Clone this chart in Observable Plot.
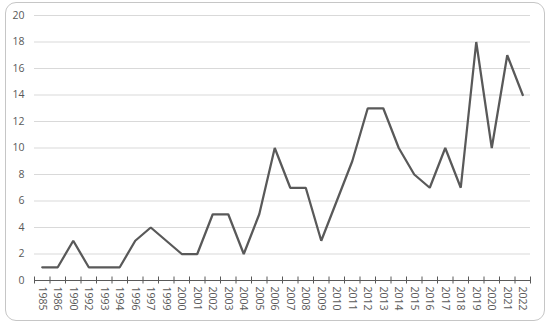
<!DOCTYPE html>
<html>
<head>
<meta charset="utf-8">
<script src="https://cdn.jsdelivr.net/npm/d3@7"></script>
<script src="https://cdn.jsdelivr.net/npm/@observablehq/plot@0.6"></script>
<style>
  html, body { margin: 0; padding: 0; background: #fff; }
  #wrap { position: relative; width: 550px; height: 326px; overflow: hidden; }
  #frame { position: absolute; left: 5px; top: 2px; width: 538px; height: 317px;
           border: 1px solid #c6c6c6; border-radius: 11px; box-sizing: content-box; }
  #chart { position: absolute; left: 0; top: 0; }
</style>
</head>
<body>
<div id="wrap"><div id="frame"></div><div id="chart"></div></div>
<script>
const years = ["1985","1986","1990","1992","1993","1994","1996","1997","1999","2000",
  "2001","2002","2003","2004","2005","2006","2007","2008","2009","2010","2011","2012",
  "2013","2014","2015","2016","2017","2018","2019","2020","2021","2022"];
const counts = [1,1,3,1,1,1,3,4,3,2,2,5,5,2,5,10,7,7,3,6,9,13,13,10,8,7,10,7,18,10,17,14];
const yTicks = [0,2,4,6,8,10,12,14,16,18,20];

const data = years.map((y, i) => ({i, year: y, value: counts[i]}));
const idx = d3.range(years.length);
const bounds = d3.range(years.length + 1).map(i => i - 0.5);

const fontFam = "'Open Sans', 'Liberation Sans', sans-serif";
const chart = Plot.plot({
  width: 550,
  height: 326,
  marginLeft: 34,
  marginRight: 20,
  marginTop: 15,
  marginBottom: 46,
  style: {fontFamily: fontFam, fontSize: "10px", color: "#595959", background: "transparent"},
  x: {domain: [-0.5, years.length - 0.5], label: null},
  y: {domain: [0, 20], label: null},
  marks: [
    Plot.gridY(yTicks.filter(t => t > 0), {stroke: "#d9d9d9", strokeOpacity: 1, strokeWidth: 1}),
    Plot.axisY(yTicks, {tickSize: 0, tickPadding: 10, fill: "#595959", fontSize: 10.5, label: null}),
    Plot.ruleY([0], {stroke: "#595959", strokeWidth: 1}),
    Plot.axisX(bounds, {tickSize: 3.5, tickFormat: () => "", stroke: "#595959", strokeOpacity: 1, label: null}),
    Plot.axisX(bounds, {tickSize: -3.5, tickFormat: () => "", stroke: "#595959", strokeOpacity: 1, label: null}),
    Plot.axisX(idx, {tickSize: 0, tickPadding: 6, tickRotate: 90, tickFormat: i => years[i], fill: "#595959", fontSize: 10.5, label: null}),
    Plot.line(data, {x: "i", y: "value", stroke: "#595959", strokeWidth: 2.25, strokeLinejoin: "miter"})
  ]
});
document.getElementById("chart").appendChild(chart);
</script>
</body>
</html>
